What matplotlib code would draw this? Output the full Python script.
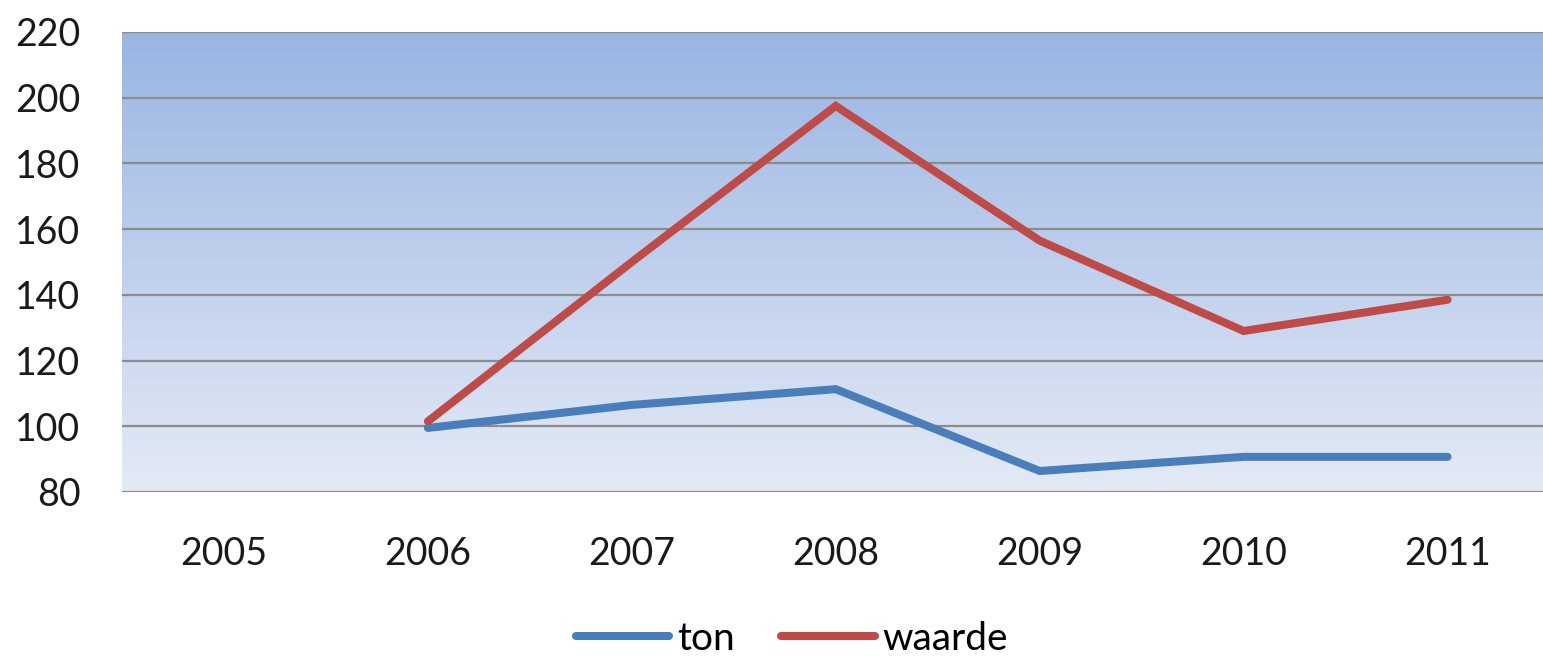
import numpy as np
import matplotlib
matplotlib.use('Agg')
import matplotlib.pyplot as plt
from matplotlib.colors import LinearSegmentedColormap

# === Data ===
years = ['2005', '2006', '2007', '2008', '2009', '2010', '2011']
ton = [np.nan, 99.5, 106.5, 111.3, 86.4, 90.7, 90.7]
waarde = [np.nan, 101.5, 150, 197.5, 156.5, 129, 138.5]
yticks = [80, 100, 120, 140, 160, 180, 200, 220]

plt.rcParams['font.family'] = ['Lato', 'DejaVu Sans']

fig = plt.figure(figsize=(15.43, 6.61), dpi=100)
ax = fig.add_axes([122 / 1543, 169 / 661, 1427.5 / 1543, 460 / 661])

# gradient background
cmap = LinearSegmentedColormap.from_list('bg', ['#E4EAF6', '#99B5E3'])
grad = np.linspace(0, 1, 256).reshape(-1, 1)
ax.imshow(grad, cmap=cmap, aspect='auto', origin='lower',
          extent=[0, 1, 0, 1], transform=ax.transAxes, zorder=0)

x = np.arange(len(years))
ax.plot(x, ton, color='#4A7EBB', lw=5.8, solid_capstyle='round',
        solid_joinstyle='miter', label='ton', zorder=3)
ax.plot(x, waarde, color='#BE4B48', lw=5.8, solid_capstyle='round',
        solid_joinstyle='miter', label='waarde', zorder=3)

ax.set_xlim(-0.5, len(years) - 0.5)
ax.set_ylim(80, 220)
ax.set_yticks(yticks)
ax.set_xticks(x)
ax.set_xticklabels(years)
for yv in yticks:
    ax.axhline(yv, color='#8C8C8C', lw=1.6, zorder=1)

for s in ax.spines.values():
    s.set_visible(False)
ax.tick_params(axis='both', length=0, labelsize=27, colors='#1A1A1A')
ax.tick_params(axis='y', pad=30)
ax.tick_params(axis='x', pad=32)

leg = fig.legend(loc='center', bbox_to_anchor=(792 / 1543, 22 / 661), ncol=2,
                 frameon=False, fontsize=28, handlelength=2.4,
                 handletextpad=0.2, columnspacing=1.2)

plt.savefig('out.png', dpi=100)
